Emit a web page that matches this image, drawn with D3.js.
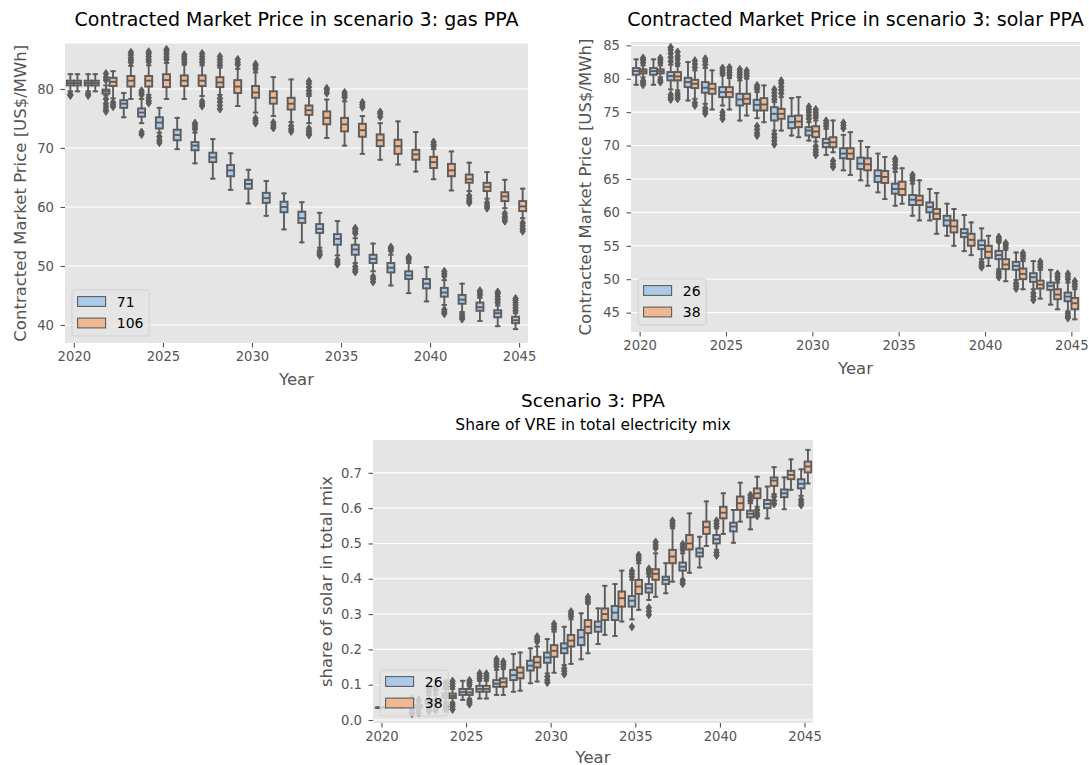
<!DOCTYPE html>
<html>
<head>
<meta charset="utf-8">
<script src="https://cdn.jsdelivr.net/npm/d3@7/dist/d3.min.js"></script>
<style>
  body { margin: 0; background: #ffffff; }
  svg { display: block; }
  text { font-family: "DejaVu Sans", sans-serif; }
</style>
</head>
<body>
<svg id="fig" width="1089" height="765"></svg>
<script>
// ---------- categories ----------
const years = [2020, 2021, 2022, 2023, 2024, 2025, 2026, 2027, 2028, 2029, 2030, 2031, 2032,
               2033, 2034, 2035, 2036, 2037, 2038, 2039, 2040, 2041, 2042, 2043, 2044, 2045];
const tickYears = [2020, 2025, 2030, 2035, 2040, 2045];

// ---------- gas PPA: [whisker low, Q1, median, Q3, whisker high] per year ----------
const gasHue = ["71", "106"];
const gas71 = [
  [79.6, 80.6, 81.0, 81.4, 82.5], [79.6, 80.6, 81.0, 81.4, 82.5], [78.9, 79.2, 79.6, 79.9, 80.6],
  [75.2, 76.8, 77.5, 78.1, 79.3], [74.2, 75.3, 76.0, 76.7, 78.3], [72.6, 73.3, 74.3, 75.2, 76.8],
  [69.8, 71.3, 72.2, 73.1, 75.1], [67.4, 69.6, 70.4, 71.0, 72.6], [64.8, 67.6, 68.4, 69.2, 71.5],
  [62.9, 65.2, 66.2, 67.1, 69.1], [60.6, 63.1, 63.9, 64.6, 66.3], [58.5, 60.7, 61.5, 62.4, 64.4],
  [56.2, 59.1, 60.0, 60.9, 62.3], [54.0, 57.3, 58.1, 59.2, 60.8], [53.1, 55.6, 56.3, 57.1, 59.0],
  [51.8, 53.6, 54.6, 55.4, 57.6], [50.5, 51.9, 52.8, 53.6, 54.7], [49.1, 50.5, 51.2, 51.9, 53.8],
  [46.7, 48.9, 49.7, 50.5, 51.9], [45.4, 47.8, 48.4, 49.1, 50.5], [44.0, 46.2, 47.0, 47.8, 49.8],
  [43.4, 44.8, 45.5, 46.3, 47.6], [42.2, 43.6, 44.3, 45.1, 47.0], [40.7, 42.4, 43.0, 43.8, 44.6],
  [39.8, 41.3, 42.0, 42.5, 43.3], [39.3, 40.3, 40.8, 41.4, 42.0]
];
const gas71Fliers = [
  [78.9, 79.1], [78.9, 79.2], [82.6, 82.0, 81.5, 78.3, 77.5, 77.0, 76.5, 76.2], [],
  [79.0, 79.4, 79.7, 72.3, 72.7], [71.9, 71.3, 70.9], [], [73.2, 73.6, 74.0, 74.2], [], [], [], [], [], [],
  [52.5, 52.1, 51.8], [51.0, 50.6, 50.3], [55.5, 55.8, 56.2, 56.4, 49.9, 49.4, 49.0], [48.2, 47.8, 47.3],
  [52.6, 52.9, 53.2], [51.0, 51.3, 51.5], [], [48.3, 48.7, 49.1, 42.6, 42.2, 41.9], [41.8, 41.4, 41.0],
  [45.0, 45.4, 45.8], [43.8, 44.3, 44.8, 45.3, 45.6], [42.4, 42.9, 43.4, 43.8, 44.2, 44.5]
];
const gas106 = [
  [79.6, 80.6, 81.0, 81.4, 82.5], [79.6, 80.6, 81.0, 81.4, 82.5], [78.4, 80.5, 81.2, 81.9, 83.0],
  [78.3, 80.4, 81.4, 82.2, 83.9], [79.0, 80.4, 81.4, 82.2, 84.0], [78.3, 80.3, 81.5, 82.5, 84.4],
  [78.3, 80.5, 81.4, 82.3, 84.1], [78.8, 80.5, 81.4, 82.3, 84.0], [79.0, 80.3, 81.1, 82.0, 83.6],
  [77.1, 79.3, 80.4, 81.5, 83.4], [76.0, 78.5, 79.4, 80.5, 82.8], [75.4, 77.5, 78.5, 79.6, 82.0],
  [74.4, 76.5, 77.5, 78.5, 81.6], [74.2, 75.6, 76.4, 77.2, 78.8], [71.7, 74.0, 75.1, 76.2, 78.2],
  [70.4, 72.8, 74.0, 75.1, 77.9], [69.0, 71.9, 73.0, 74.1, 75.4], [68.0, 70.3, 71.3, 72.3, 74.2],
  [67.2, 69.0, 70.3, 71.4, 74.5], [66.0, 68.0, 68.9, 69.7, 72.7], [64.7, 66.6, 67.6, 68.5, 69.8],
  [62.8, 65.2, 66.2, 67.3, 69.4], [62.7, 64.1, 64.7, 65.5, 67.5], [61.4, 62.7, 63.4, 64.1, 65.9],
  [59.8, 61.0, 61.8, 62.5, 64.6], [58.1, 59.3, 60.1, 61.0, 63.1]
];
const gas106Fliers = [
  [], [], [77.7, 77.3, 77.0], [84.5, 84.9, 85.3, 85.8, 86.2],
  [84.6, 85.0, 85.5, 86.0, 86.3, 78.5, 78.0, 77.6], [85.0, 85.4, 85.9, 86.4, 86.7], [84.5, 85.0, 85.4, 85.8],
  [84.5, 85.0, 85.5, 86.0, 77.9, 77.5, 77.1], [84.0, 84.5, 85.0, 85.5, 78.4, 77.8, 77.2, 76.6],
  [84.1, 84.5, 85.0], [83.4, 83.9, 84.2, 75.0, 74.6, 74.2], [74.3, 73.8, 73.4], [73.7, 73.2, 72.8],
  [79.2, 79.7, 80.3, 80.9, 81.3, 73.3, 72.9, 72.5, 72.2], [79.3, 79.8, 80.1], [78.6, 79.0, 79.4],
  [76.9, 77.3, 77.7], [75.3, 75.8, 76.1], [], [], [70.3, 70.6, 71.0], [], [61.9, 61.4, 61.0, 60.7],
  [60.7, 60.2, 59.8], [58.9, 58.4, 58.0, 57.6], [57.3, 56.8, 56.3, 55.9]
];

// ---------- solar PPA ----------
const solarHue = ["26", "38"];
const solar26 = [
  [79.1, 80.6, 81.15, 81.6, 82.9], [79.1, 80.6, 81.15, 81.6, 82.9], [78.4, 79.75, 80.4, 81.0, 82.1],
  [76.75, 78.75, 79.5, 80.15, 82.5], [76.25, 77.9, 78.65, 79.5, 81.6], [76.0, 77.25, 78.0, 78.75, 80.5],
  [73.75, 76.0, 76.9, 77.75, 79.75], [74.1, 75.25, 76.1, 76.85, 78.0], [72.25, 73.75, 74.75, 75.75, 76.5],
  [71.5, 72.6, 73.5, 74.4, 77.1], [70.75, 71.5, 72.25, 72.75, 73.5], [68.6, 69.75, 70.4, 71.0, 72.5],
  [66.3, 68.1, 68.8, 69.6, 71.6], [64.8, 66.5, 67.3, 68.2, 70.7], [63.0, 64.55, 65.45, 66.3, 68.8],
  [61.0, 62.8, 63.5, 64.3, 66.05], [59.5, 61.1, 61.9, 62.6, 64.3], [58.8, 60.0, 60.8, 61.5, 63.5],
  [56.5, 58.0, 58.8, 59.5, 61.3], [54.2, 56.3, 56.9, 57.5, 59.6], [53.0, 54.5, 55.1, 55.8, 57.6],
  [51.5, 53.0, 53.6, 54.25, 55.5], [49.9, 51.4, 52.0, 52.6, 54.0], [48.5, 49.6, 50.3, 50.9, 52.7],
  [46.2, 48.4, 49.0, 49.5, 51.4], [45.2, 46.7, 47.4, 48.0, 49.5]
];
const solar26Fliers = [
  [], [], [82.6, 83.2, 83.8, 84.3, 84.7, 77.6, 77.2, 76.9], [], [82.1, 82.6, 83.0, 75.6, 75.2, 74.8],
  [80.8, 81.2, 81.6, 75.0, 74.5, 74.0], [80.2, 80.6, 81.0, 81.4], [78.4, 78.7, 79.0, 72.9, 72.4, 71.9, 71.5],
  [76.9, 77.4, 77.9, 78.4, 71.7, 71.2, 70.7, 70.2], [], [74.0, 74.5, 75.0, 75.4, 75.8], [72.9, 73.3, 73.7],
  [72.6, 73.0, 73.4], [], [], [66.6, 67.1, 67.6, 68.0], [64.8, 65.2, 65.6], [], [], [], [52.5, 52.1, 51.8],
  [55.7, 56.0, 56.3, 51.1, 50.7, 50.3], [49.4, 49.0, 48.6], [47.9, 47.4, 46.9], [],
  [50.0, 50.4, 50.8, 44.9, 44.5, 44.2]
];
const solar38 = [
  [80.2, 80.8, 81.1, 81.4, 82.0], [80.2, 80.8, 81.1, 81.4, 82.0], [78.25, 79.75, 80.35, 81.0, 81.9],
  [77.0, 78.6, 79.25, 79.85, 81.25], [75.4, 77.75, 78.5, 79.25, 81.25], [75.4, 77.25, 78.0, 78.75, 80.1],
  [74.5, 76.25, 77.0, 77.75, 80.0], [73.5, 75.25, 76.15, 77.1, 79.0], [72.25, 74.0, 74.75, 75.5, 77.25],
  [71.25, 72.75, 73.6, 74.5, 77.25], [70.6, 71.25, 72.1, 72.9, 73.75], [69.0, 69.75, 70.5, 71.25, 73.75],
  [65.6, 68.0, 68.8, 69.6, 72.0], [64.0, 66.3, 67.2, 68.1, 69.8], [62.0, 64.4, 65.3, 66.2, 68.3],
  [61.3, 62.6, 63.5, 64.6, 66.6], [58.8, 61.1, 61.8, 62.5, 64.8], [56.8, 59.0, 59.8, 60.5, 62.9],
  [55.0, 57.0, 57.9, 58.8, 60.5], [53.6, 55.0, 55.9, 56.8, 58.5], [52.0, 53.2, 54.1, 55.0, 56.5],
  [49.7, 51.5, 52.2, 53.0, 54.4], [48.5, 50.0, 50.8, 51.6, 52.7], [47.1, 48.6, 49.2, 49.8, 51.4],
  [45.5, 47.0, 47.7, 48.5, 49.5], [44.0, 45.5, 46.4, 47.2, 48.5]
];
const solar38Fliers = [
  [82.4, 82.8, 83.1, 79.7, 79.4, 79.1], [82.4, 82.8, 83.1, 79.8, 79.5],
  [82.3, 82.9, 83.4, 84.0, 77.8, 77.4, 77.0], [81.7, 82.2, 82.7, 76.4, 76.0], [],
  [80.5, 80.9, 81.3, 81.7], [80.4, 80.8, 81.2], [], [77.8, 78.3, 78.8, 79.3, 79.7], [],
  [74.2, 74.6, 75.0, 75.4, 69.9, 69.4, 69.0, 68.6], [67.7, 67.2, 66.8], [], [], [], [], [], [], [], [], [],
  [54.7, 55.1, 55.4], [53.1, 53.5, 53.9], [51.8, 52.2, 52.6], [50.0, 50.4, 50.8], [48.9, 49.3, 49.7]
];

// ---------- share of VRE ----------
const shareHue = ["26", "38"];
const share26 = [
  [0.035, 0.035, 0.035, 0.035, 0.035], [0.035, 0.035, 0.035, 0.035, 0.035], [0.028, 0.033, 0.037, 0.041, 0.048],
  [0.035, 0.045, 0.05, 0.056, 0.07], [0.05, 0.063, 0.069, 0.075, 0.088], [0.057, 0.071, 0.079, 0.088, 0.111],
  [0.061, 0.080, 0.088, 0.097, 0.111], [0.071, 0.094, 0.103, 0.113, 0.142], [0.080, 0.113, 0.127, 0.142, 0.187],
  [0.104, 0.140, 0.154, 0.168, 0.203], [0.132, 0.162, 0.177, 0.191, 0.229], [0.156, 0.189, 0.203, 0.217, 0.264],
  [0.172, 0.212, 0.234, 0.255, 0.302], [0.215, 0.250, 0.264, 0.279, 0.316], [0.238, 0.283, 0.304, 0.323, 0.385],
  [0.285, 0.321, 0.338, 0.351, 0.397], [0.340, 0.361, 0.373, 0.385, 0.406], [0.359, 0.385, 0.397, 0.406, 0.444],
  [0.398, 0.423, 0.434, 0.446, 0.472], [0.432, 0.463, 0.474, 0.486, 0.519], [0.482, 0.500, 0.512, 0.524, 0.543],
  [0.502, 0.534, 0.548, 0.559, 0.595], [0.540, 0.574, 0.584, 0.593, 0.614], [0.571, 0.600, 0.612, 0.623, 0.661],
  [0.597, 0.631, 0.642, 0.653, 0.687], [0.635, 0.656, 0.669, 0.682, 0.710]
];
const share26Fliers = [
  [], [], [0.018, 0.022, 0.055, 0.06], [0.025, 0.03, 0.08, 0.09], [0.095, 0.105, 0.04, 0.035, 0.03], [],
  [0.118, 0.125, 0.132], [0.151, 0.158, 0.165, 0.172], [], [], [0.123, 0.113, 0.106], [0.146, 0.138, 0.13],
  [], [], [], [0.406, 0.414, 0.422, 0.264], [0.415, 0.422, 0.428, 0.318, 0.308, 0.298], [],
  [0.482, 0.490, 0.498, 0.394, 0.386], [], [0.548, 0.556, 0.564, 0.474, 0.466], [], [0.621, 0.629, 0.637],
  [], [], [0.624, 0.616, 0.609]
];
const share38 = [
  [0.035, 0.035, 0.035, 0.035, 0.035], [0.035, 0.035, 0.035, 0.035, 0.035], [0.028, 0.034, 0.038, 0.042, 0.05],
  [0.036, 0.046, 0.052, 0.058, 0.072], [0.05, 0.062, 0.068, 0.075, 0.088], [0.06, 0.071, 0.078, 0.088, 0.095],
  [0.061, 0.080, 0.088, 0.097, 0.111], [0.071, 0.094, 0.107, 0.118, 0.144], [0.083, 0.118, 0.134, 0.149, 0.191],
  [0.109, 0.149, 0.163, 0.179, 0.208], [0.134, 0.179, 0.196, 0.212, 0.250], [0.159, 0.208, 0.225, 0.241, 0.285],
  [0.189, 0.246, 0.264, 0.283, 0.329], [0.241, 0.283, 0.300, 0.316, 0.380], [0.279, 0.321, 0.345, 0.364, 0.423],
  [0.312, 0.357, 0.378, 0.397, 0.444], [0.349, 0.397, 0.414, 0.427, 0.472], [0.392, 0.444, 0.463, 0.482, 0.543],
  [0.417, 0.483, 0.500, 0.524, 0.585], [0.493, 0.527, 0.546, 0.562, 0.619], [0.527, 0.571, 0.587, 0.604, 0.642],
  [0.562, 0.595, 0.614, 0.633, 0.672], [0.604, 0.628, 0.642, 0.656, 0.689], [0.640, 0.663, 0.678, 0.687, 0.716],
  [0.652, 0.682, 0.694, 0.706, 0.738], [0.670, 0.701, 0.718, 0.732, 0.765]
];
const share38Fliers = [
  [], [], [0.02, 0.057], [0.028, 0.085, 0.092], [0.095, 0.102, 0.11, 0.045, 0.038, 0.03],
  [0.1, 0.106, 0.112, 0.055, 0.05, 0.045], [0.118, 0.124, 0.131], [0.151, 0.158, 0.165], [],
  [0.222, 0.229, 0.236], [0.257, 0.264, 0.272], [0.293, 0.300, 0.307], [0.334, 0.341, 0.348], [], [],
  [0.453, 0.460, 0.467], [0.487, 0.495, 0.504], [0.55, 0.557, 0.564], [], [], [], [],
  [0.595, 0.585, 0.578], [0.633, 0.621, 0.612], [], []
];

// ---------- tick labels ----------
const gasTicks = [40, 50, 60, 70, 80];
const solarTicks = [45, 50, 55, 60, 65, 70, 75, 80, 85];
const shareTicks = [0.0, 0.1, 0.2, 0.3, 0.4, 0.5, 0.6, 0.7];

// ---------- styling ----------
const hueColors = ["#abcaea", "#efb792"];
const gray = "#5c5c5c";
const panelBg = "#e5e5e5";
const tickColor = "#555555";
const tickFont = 13.2;
const labelFont = 16.5;

const svg = d3.select("#fig");

function drawPanel(p) {
  const g = svg.append("g");
  const x = d3.scaleLinear().domain([-0.5, years.length - 0.5]).range([p.left, p.right]);
  const y = d3.scaleLinear().domain(p.yDomain).range([p.bottom, p.top]);
  const step = x(1) - x(0);

  g.append("rect")
    .attr("x", p.left).attr("y", p.top)
    .attr("width", p.right - p.left).attr("height", p.bottom - p.top)
    .attr("fill", panelBg);

  // horizontal grid
  g.append("g").selectAll("line").data(p.yTicks).join("line")
    .attr("x1", p.left).attr("x2", p.right)
    .attr("y1", d => y(d)).attr("y2", d => y(d))
    .attr("stroke", "#ffffff").attr("stroke-width", 1.1);

  // axes
  const yAxis = d3.axisLeft(y).tickValues(p.yTicks).tickFormat(p.fmt).tickSize(4.5).tickPadding(6.5);
  const ya = g.append("g").attr("transform", `translate(${p.left},0)`).call(yAxis);
  const xAxis = d3.axisBottom(x).tickValues(tickYears.map(t => years.indexOf(t)))
    .tickFormat(i => String(years[i])).tickSize(4.5).tickPadding(4.5);
  const xa = g.append("g").attr("transform", `translate(0,${p.bottom})`).call(xAxis);
  [ya, xa].forEach(a => {
    a.select(".domain").remove();
    a.selectAll(".tick line").attr("stroke", tickColor).attr("stroke-width", 1.1);
    a.selectAll(".tick text").attr("fill", tickColor).attr("font-size", tickFont)
      .attr("font-family", "DejaVu Sans");
  });

  // boxes
  const boxW = 0.392 * step;
  const capW = 0.5 * boxW;
  const series = p.series;
  const boxes = [];
  years.forEach((yr, i) => {
    series.forEach((s, h) => {
      const cx = x(i + (h === 0 ? -0.2 : 0.2));
      boxes.push({ cx, st: s.stats[i], fl: s.fliers[i], color: hueColors[h] });
    });
  });
  const gb = g.append("g");
  boxes.forEach(b => {
    const [wl, q1, md, q3, wh] = b.st;
    gb.append("rect")
      .attr("x", b.cx - boxW / 2).attr("y", y(q3))
      .attr("width", boxW).attr("height", Math.max(0, y(q1) - y(q3)))
      .attr("fill", b.color).attr("stroke", gray).attr("stroke-width", 1.9);
  });
  const gl = g.append("g").attr("stroke", gray).attr("stroke-width", 1.9).attr("stroke-linecap", "square");
  boxes.forEach(b => {
    const [wl, q1, md, q3, wh] = b.st;
    gl.append("line").attr("x1", b.cx).attr("x2", b.cx).attr("y1", y(q1)).attr("y2", y(wl));
    gl.append("line").attr("x1", b.cx).attr("x2", b.cx).attr("y1", y(q3)).attr("y2", y(wh));
    gl.append("line").attr("x1", b.cx - capW / 2).attr("x2", b.cx + capW / 2).attr("y1", y(wl)).attr("y2", y(wl));
    gl.append("line").attr("x1", b.cx - capW / 2).attr("x2", b.cx + capW / 2).attr("y1", y(wh)).attr("y2", y(wh));
    gl.append("line").attr("x1", b.cx - boxW / 2).attr("x2", b.cx + boxW / 2).attr("y1", y(md)).attr("y2", y(md))
      .attr("stroke-linecap", "butt");
    b.fl.forEach(v => {
      g.append("path")
        .attr("d", "M0,-4L2.7,0L0,4L-2.7,0Z")
        .attr("transform", `translate(${b.cx},${y(v)})`)
        .attr("fill", gray).attr("stroke", gray).attr("stroke-width", 1);
    });
  });

  // titles and axis labels
  const cx = (p.left + p.right) / 2;
  p.titles.forEach(t => {
    g.append("text").attr("x", cx).attr("y", t.y).attr("text-anchor", "middle")
      .attr("font-size", t.size).attr("fill", "#000000").text(t.text);
  });
  g.append("text").attr("x", cx).attr("y", p.bottom + p.xLabelDy).attr("text-anchor", "middle")
    .attr("font-size", labelFont).attr("fill", tickColor).text("Year");
  g.append("text")
    .attr("transform", `translate(${p.yLabelX},${(p.top + p.bottom) / 2}) rotate(-90)`)
    .attr("text-anchor", "middle").attr("font-size", labelFont).attr("fill", tickColor).text(p.yLabel);

  // legend (lower left, semi-transparent frame)
  const fs = 14;
  const lg = g.append("g");
  const frameH = 46;
  const fx = p.left + 7, fyB = p.bottom - 7, fy = fyB - frameH;
  const frame = lg.append("rect");
  const textX = fx + 5.6 + 28 + 11.2;
  let maxW = 0;
  series.forEach((s, h) => {
    const rc = fy + 11.5 + h * 21.5;
    lg.append("rect").attr("x", fx + 5.6).attr("y", rc - 4.9).attr("width", 28).attr("height", 9.8)
      .attr("fill", hueColors[h]).attr("stroke", gray).attr("stroke-width", 1.1);
    const t = lg.append("text").attr("x", textX).attr("y", rc + 5).attr("font-size", fs)
      .attr("fill", "#000000").text(s.name);
    maxW = Math.max(maxW, t.node().getComputedTextLength());
  });
  frame.attr("x", fx).attr("y", fy).attr("rx", 2.5).attr("ry", 2.5)
    .attr("width", textX + maxW + 5.6 - fx).attr("height", frameH)
    .attr("fill", panelBg).attr("fill-opacity", 0.8)
    .attr("stroke", "#cccccc").attr("stroke-opacity", 0.8).attr("stroke-width", 1);
}

drawPanel({
  left: 65, right: 528, top: 43.5, bottom: 343,
  yDomain: [36.95, 87.7], yTicks: gasTicks, fmt: d3.format("d"),
  series: [{ name: gasHue[0], stats: gas71, fliers: gas71Fliers },
           { name: gasHue[1], stats: gas106, fliers: gas106Fliers }],
  titles: [{ text: "Contracted Market Price in scenario 3: gas PPA", y: 26, size: 19 }],
  yLabel: "Contracted Market Price [US$/MWh]", yLabelX: 26, xLabelDy: 42
});

drawPanel({
  left: 631, right: 1080, top: 42, bottom: 332,
  yDomain: [42.1, 85.5], yTicks: solarTicks, fmt: d3.format("d"),
  series: [{ name: solarHue[0], stats: solar26, fliers: solar26Fliers },
           { name: solarHue[1], stats: solar38, fliers: solar38Fliers }],
  titles: [{ text: "Contracted Market Price in scenario 3: solar PPA", y: 26, size: 19 }],
  yLabel: "Contracted Market Price [US$/MWh]", yLabelX: 591, xLabelDy: 42
});

drawPanel({
  left: 373, right: 813, top: 440, bottom: 723,
  yDomain: [-0.0085, 0.793], yTicks: shareTicks, fmt: d3.format(".1f"),
  series: [{ name: shareHue[0], stats: share26, fliers: share26Fliers },
           { name: shareHue[1], stats: share38, fliers: share38Fliers }],
  titles: [{ text: "Scenario 3: PPA", y: 406.5, size: 18.5 },
           { text: "Share of VRE in total electricity mix", y: 430, size: 15.5 }],
  yLabel: "share of solar in total mix", yLabelX: 332, xLabelDy: 39.5
});
</script>
</body>
</html>
